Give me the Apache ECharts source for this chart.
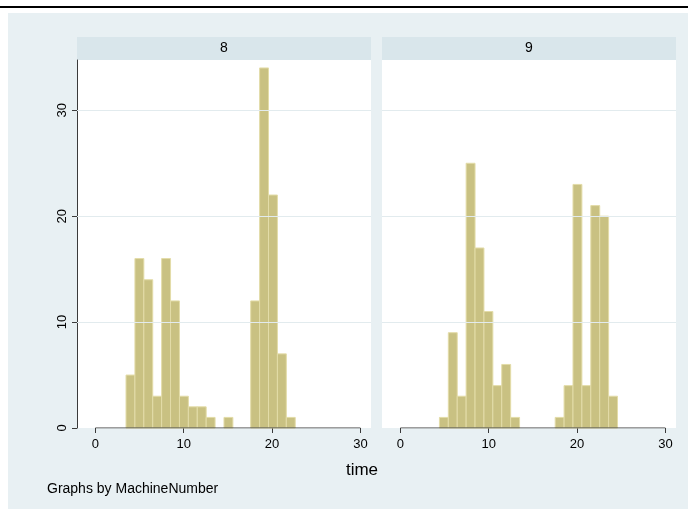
<!DOCTYPE html>
<html><head><meta charset="utf-8">
<script src="https://cdn.jsdelivr.net/npm/echarts@6/dist/echarts.min.js"></script>
<style>html,body{margin:0;padding:0;background:#fff}#c{width:688px;height:509px}</style>
</head><body><div id="c"></div>
<script>
// ---- data ----
const panels = ['8', '9'];
const binStart8 = 3.47;
const binStart9 = 4.42;
const binWidth = 1.008;
const counts8 = [5,16,14,3,16,12,3,2,2,1,0,1,0,0,12,34,22,7,1];
const counts9 = [1,9,3,25,17,11,4,6,1,0,0,0,0,1,4,23,4,21,20,3];
const xTicks = [0, 10, 20, 30];
const yTicks = [0, 10, 20, 30];
const gridValues = [10, 20, 30];
const xTitle = 'time';
const note = 'Graphs by MachineNumber';

// ---- chart ----
const FONT = "'Liberation Sans', Arial, sans-serif";
const BG = '#e8f0f3';
const STRIP = '#d9e6eb';
const GRIDC = '#e2ebee';
const AXC = '#3a3a3a';
const FILL = '#c9c182';
const EDGE = '#e3dca8';

function bins(start, counts) {
  return counts.map((c, i) => [start + i * binWidth, start + (i + 1) * binWidth, c]).filter(d => d[2] > 0);
}
const binData = [bins(binStart8, counts8), bins(binStart9, counts9)];

const gridDefs = [
  {left: 77, top: 60, width: 294, height: 368},
  {left: 382, top: 60, width: 294, height: 368}
];

const chart = echarts.init(document.getElementById('c'), null, {renderer: 'canvas'});

const grids = gridDefs.map(g => ({left: g.left, top: g.top, width: g.width, height: g.height,
  show: true, backgroundColor: '#ffffff', borderWidth: 0, containLabel: false}));

const xAxes = gridDefs.map((g, i) => ({
  type: 'value', gridIndex: i, min: -2.08, max: 31.2,
  axisLine: {show: false, onZero: false},
  axisTick: {show: true, customValues: xTicks, length: 5, lineStyle: {color: AXC, width: 1}},
  axisLabel: {show: true, customValues: xTicks, margin: 10, color: '#000', fontSize: 13, fontFamily: FONT},
  splitLine: {show: false}
}));

const yAxes = gridDefs.map((g, i) => ({
  type: 'value', gridIndex: i, min: 0, max: 34.75,
  show: i === 0,
  axisLine: {show: true, onZero: false, lineStyle: {color: AXC, width: 1}},
  axisTick: {show: true, customValues: yTicks, length: 5, lineStyle: {color: AXC, width: 1}},
  axisLabel: {show: true, customValues: yTicks, rotate: 90, margin: 8, color: '#000', fontSize: 13, fontFamily: FONT},
  splitLine: {show: false}
}));

const series = [];
panels.forEach((p, i) => {
  series.push({
    type: 'line', xAxisIndex: i, yAxisIndex: i, z: 1, silent: true,
    data: [], symbol: 'none',
    markLine: {silent: true, symbol: 'none', label: {show: false},
      lineStyle: {color: GRIDC, width: 1, type: 'solid'}, animation: false,
      data: gridValues.map(v => ({yAxis: v}))}
  });
  series.push({
    type: 'custom', xAxisIndex: i, yAxisIndex: i, z: 2,
    data: binData[i],
    encode: {x: [0, 1], y: 2},
    renderItem: function (params, api) {
      const p0 = api.coord([api.value(0), 0]);
      const p1 = api.coord([api.value(1), api.value(2)]);
      return {type: 'rect',
        shape: {x: p0[0], y: p1[1], width: p1[0] - p0[0], height: p0[1] - p1[1]},
        style: {fill: FILL, stroke: EDGE, lineWidth: 1}};
    }
  });
  series.push({
    type: 'line', xAxisIndex: i, yAxisIndex: i, z: 3, silent: true,
    data: [[xTicks[0], 0], [xTicks[xTicks.length - 1], 0]],
    symbol: 'none', lineStyle: {color: AXC, width: 1}
  });
});

const graphic = [
  {type: 'rect', z: -10, shape: {x: 0, y: 6, width: 688, height: 2}, style: {fill: '#000'}},
  {type: 'rect', z: -10, shape: {x: 8, y: 13, width: 680, height: 496}, style: {fill: BG}}
];
panels.forEach((p, i) => {
  const g = gridDefs[i];
  graphic.push({type: 'rect', z: -5, shape: {x: g.left, y: 37, width: g.width, height: 23}, style: {fill: STRIP}});
  graphic.push({type: 'text', z: 5, x: g.left + g.width / 2, y: 48.5,
    style: {text: p, fill: '#000', font: '14px ' + FONT, textAlign: 'center', textVerticalAlign: 'middle'}});
});
graphic.push({type: 'text', z: 5, x: 362, y: 470,
  style: {text: xTitle, fill: '#000', font: '17px ' + FONT, textAlign: 'center', textVerticalAlign: 'middle'}});
graphic.push({type: 'text', z: 5, x: 47, y: 489,
  style: {text: note, fill: '#000', font: '14px ' + FONT, textAlign: 'left', textVerticalAlign: 'middle'}});

chart.setOption({
  animation: false,
  backgroundColor: '#ffffff',
  grid: grids,
  xAxis: xAxes,
  yAxis: yAxes,
  series: series,
  graphic: graphic
});
</script>
</body></html>
